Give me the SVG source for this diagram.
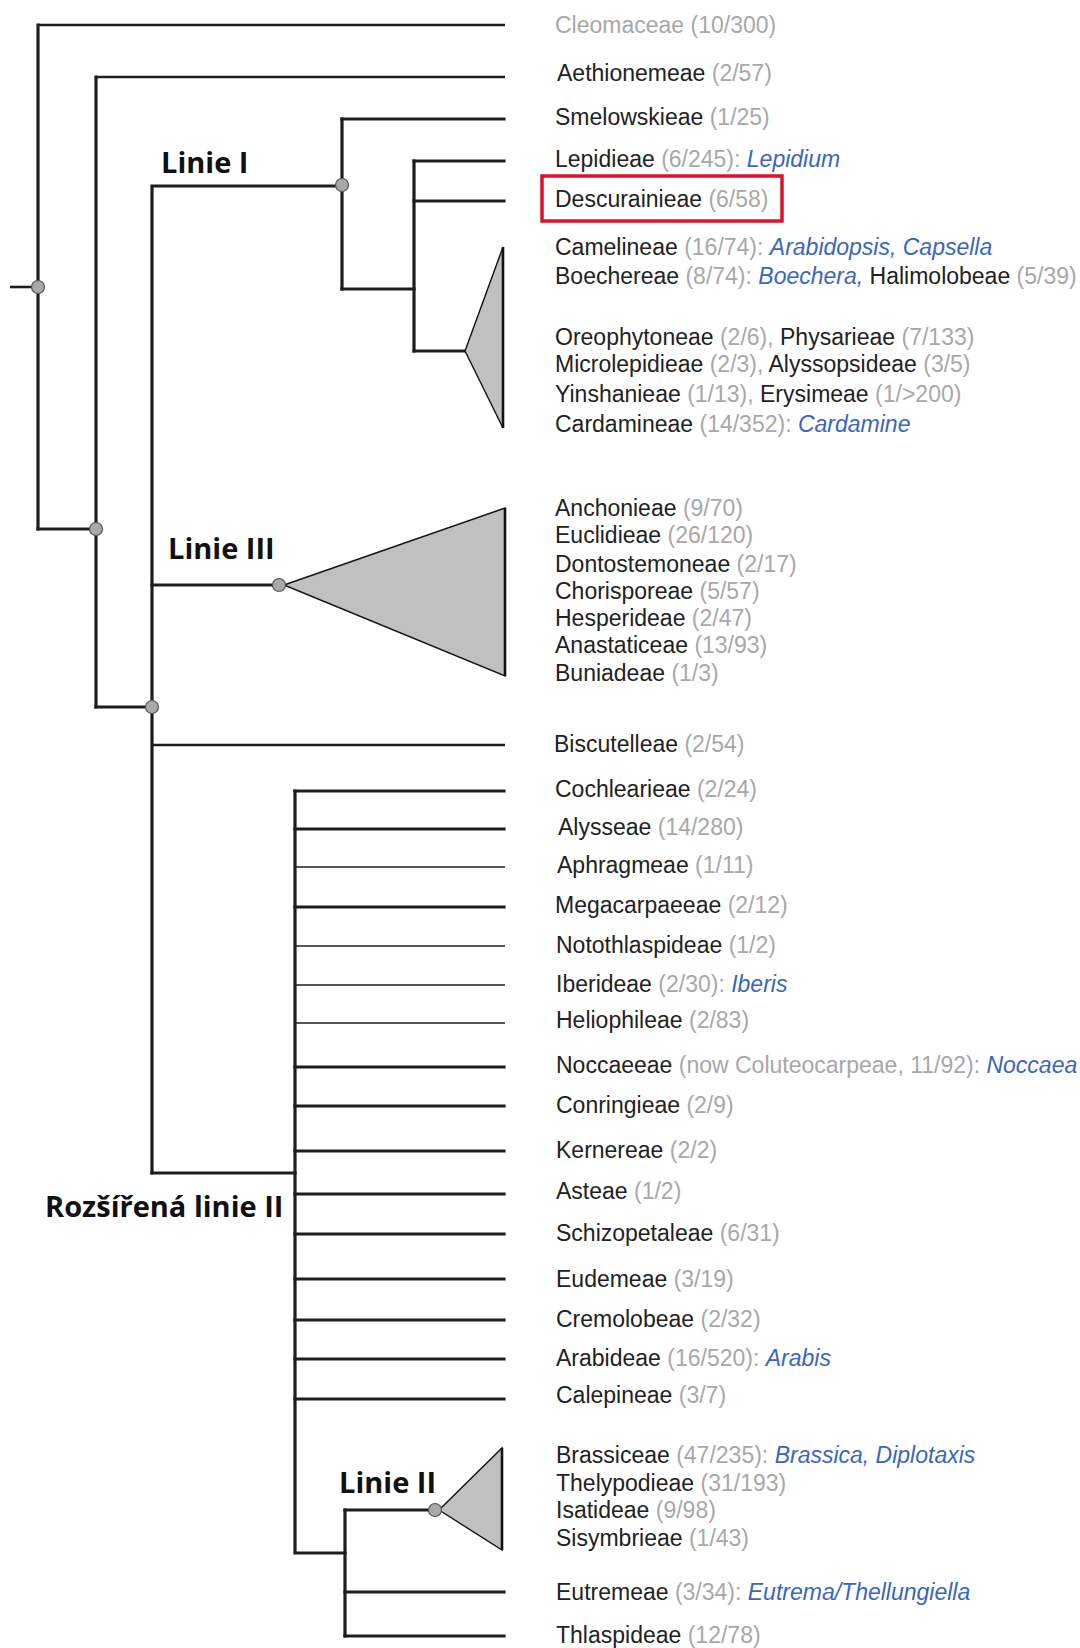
<svg xmlns="http://www.w3.org/2000/svg" width="1080" height="1648" viewBox="0 0 1080 1648">
<style>
text{font-family:"Liberation Sans",Arial,sans-serif;font-size:23px;fill:#222}
.c{fill:#a8a8a8}
.g{fill:#3a66c0;font-style:italic}
.lbl{font-family:"Open Sans","DejaVu Sans",sans-serif;font-weight:700;font-size:29px;fill:#111}
.br{stroke:#1e1e1e;stroke-width:3.2;fill:none;stroke-linecap:square}
.md{stroke:#1e1e1e;stroke-width:2.6;fill:none}
.th{stroke:#1e1e1e;stroke-width:1.7;fill:none}
.node{fill:#a9a9a9;stroke:#555;stroke-width:1.2}
.tri{fill:#c0c0c0;stroke:#111;stroke-width:1.4}
.triR{stroke:#111;stroke-width:2.6}
</style>
<rect width="1080" height="1648" fill="#fff"/>
<g id="connectors">
<path class="md" d="M10 287H38"/>
<path class="br" d="M38 529V25"/>
<path class="md" d="M38 25H505"/>
<path class="br" d="M38 529H96"/>
<path class="br" d="M96 707V77"/>
<path class="md" d="M96 77H505"/>
<path class="br" d="M96 707H152"/>
<path class="br" d="M152 1173V186H342"/>
<path class="br" d="M342 119V289"/>
<path class="br" d="M342 119H504"/>
<path class="br" d="M342 289H414"/>
<path class="br" d="M414 161V351"/>
<path class="br" d="M414 161H504"/>
<path class="br" d="M414 201H504"/>
<path class="br" d="M414 351H465"/>
<path class="br" d="M152 585H279"/>
<path class="md" d="M152 745H505"/>
<path class="br" d="M152 1173H295"/>
<path class="br" d="M295 791V1553H345"/>
<path class="br" d="M295 791H504"/>
<path class="br" d="M295 829H504"/>
<path class="th" d="M295 867H505"/>
<path class="br" d="M295 907H504"/>
<path class="th" d="M295 946H505"/>
<path class="th" d="M295 985H505"/>
<path class="th" d="M295 1023H505"/>
<path class="br" d="M295 1067H504"/>
<path class="br" d="M295 1106H504"/>
<path class="br" d="M295 1151H504"/>
<path class="br" d="M295 1194H504"/>
<path class="br" d="M295 1234H504"/>
<path class="br" d="M295 1279H504"/>
<path class="br" d="M295 1320H504"/>
<path class="br" d="M295 1359H504"/>
<path class="br" d="M295 1399H504"/>
<path class="br" d="M345 1510V1636"/>
<path class="br" d="M345 1510H435"/>
<path class="br" d="M345 1592H504"/>
<path class="br" d="M345 1636H504"/>
</g>
<g id="triangle-linie-I-core">
<polygon class="tri" points="465,351 503,247 503,428"/>
<path class="triR" d="M503 247V428"/>
</g>
<g id="triangle-linie-III">
<polygon class="tri" points="284,585 505,508 505,676"/>
<path class="triR" d="M505 508V676"/>
</g>
<g id="triangle-linie-II">
<polygon class="tri" points="439,1510 502,1448 502,1550"/>
<path class="triR" d="M502 1448V1550"/>
</g>
<g id="node-root"><circle class="node" cx="38" cy="287" r="6.5"/></g>
<g id="node-2"><circle class="node" cx="96" cy="529" r="6.5"/></g>
<g id="node-3"><circle class="node" cx="152" cy="707" r="6.5"/></g>
<g id="node-linie-I"><circle class="node" cx="342" cy="185" r="6.5"/></g>
<g id="node-linie-III"><circle class="node" cx="279" cy="585" r="6.5"/></g>
<g id="node-linie-II"><circle class="node" cx="435" cy="1510" r="6.5"/></g>
<g id="label-linie-I"><text class="lbl" x="161" y="173">Linie I</text></g>
<g id="label-linie-III"><text class="lbl" x="168" y="559">Linie III</text></g>
<g id="label-rozsirena"><text class="lbl" x="45" y="1217">Rozšířená linie II</text></g>
<g id="label-linie-II"><text class="lbl" x="339" y="1493">Linie II</text></g>
<g id="highlight"><rect x="542" y="176" width="240" height="45" fill="none" stroke="#e0102a" stroke-width="3.5"/></g>
<g id="taxa">
<g id="t-cleomaceae"><text x="555" y="33" class="c">Cleomaceae (10/300)</text></g>
<g id="t-aethionemeae"><text x="557" y="81">Aethionemeae <tspan class="c">(2/57)</tspan></text></g>
<g id="t-smelowskieae"><text x="555" y="125">Smelowskieae <tspan class="c">(1/25)</tspan></text></g>
<g id="t-lepidieae"><text x="555" y="167">Lepidieae <tspan class="c">(6/245):</tspan> <tspan class="g">Lepidium</tspan></text></g>
<g id="t-descurainieae"><text x="555" y="207">Descurainieae <tspan class="c">(6/58)</tspan></text></g>
<g id="t-camelineae"><text x="555" y="255">Camelineae <tspan class="c">(16/74):</tspan> <tspan class="g">Arabidopsis, Capsella</tspan></text></g>
<g id="t-boechereae"><text x="555" y="284">Boechereae <tspan class="c">(8/74):</tspan> <tspan class="g">Boechera,</tspan> Halimolobeae <tspan class="c">(5/39)</tspan></text></g>
<g id="t-oreophytoneae"><text x="555" y="345">Oreophytoneae <tspan class="c">(2/6),</tspan> Physarieae <tspan class="c">(7/133)</tspan></text></g>
<g id="t-microlepidieae"><text x="555" y="372">Microlepidieae <tspan class="c">(2/3),</tspan> Alyssopsideae <tspan class="c">(3/5)</tspan></text></g>
<g id="t-yinshanieae"><text x="555" y="402">Yinshanieae <tspan class="c">(1/13),</tspan> Erysimeae <tspan class="c">(1/&gt;200)</tspan></text></g>
<g id="t-cardamineae"><text x="555" y="432">Cardamineae <tspan class="c">(14/352):</tspan> <tspan class="g">Cardamine</tspan></text></g>
<g id="t-anchonieae"><text x="555" y="516">Anchonieae <tspan class="c">(9/70)</tspan></text></g>
<g id="t-euclidieae"><text x="555" y="543">Euclidieae <tspan class="c">(26/120)</tspan></text></g>
<g id="t-dontostemoneae"><text x="555" y="572">Dontostemoneae <tspan class="c">(2/17)</tspan></text></g>
<g id="t-chorisporeae"><text x="555" y="599">Chorisporeae <tspan class="c">(5/57)</tspan></text></g>
<g id="t-hesperideae"><text x="555" y="626">Hesperideae <tspan class="c">(2/47)</tspan></text></g>
<g id="t-anastaticeae"><text x="555" y="653">Anastaticeae <tspan class="c">(13/93)</tspan></text></g>
<g id="t-buniadeae"><text x="555" y="681">Buniadeae <tspan class="c">(1/3)</tspan></text></g>
<g id="t-biscutelleae"><text x="554" y="752">Biscutelleae <tspan class="c">(2/54)</tspan></text></g>
<g id="t-cochlearieae"><text x="555" y="797">Cochlearieae <tspan class="c">(2/24)</tspan></text></g>
<g id="t-alysseae"><text x="558" y="835">Alysseae <tspan class="c">(14/280)</tspan></text></g>
<g id="t-aphragmeae"><text x="557" y="873">Aphragmeae <tspan class="c">(1/11)</tspan></text></g>
<g id="t-megacarpaeeae"><text x="555" y="913">Megacarpaeeae <tspan class="c">(2/12)</tspan></text></g>
<g id="t-notothlaspideae"><text x="556" y="953">Notothlaspideae <tspan class="c">(1/2)</tspan></text></g>
<g id="t-iberideae"><text x="556" y="992">Iberideae <tspan class="c">(2/30):</tspan> <tspan class="g">Iberis</tspan></text></g>
<g id="t-heliophileae"><text x="556" y="1028">Heliophileae <tspan class="c">(2/83)</tspan></text></g>
<g id="t-noccaeeae"><text x="556" y="1073">Noccaeeae <tspan class="c">(now Coluteocarpeae, 11/92):</tspan> <tspan class="g">Noccaea</tspan></text></g>
<g id="t-conringieae"><text x="556" y="1113">Conringieae <tspan class="c">(2/9)</tspan></text></g>
<g id="t-kernereae"><text x="556" y="1158">Kernereae <tspan class="c">(2/2)</tspan></text></g>
<g id="t-asteae"><text x="556" y="1199">Asteae <tspan class="c">(1/2)</tspan></text></g>
<g id="t-schizopetaleae"><text x="556" y="1241">Schizopetaleae <tspan class="c">(6/31)</tspan></text></g>
<g id="t-eudemeae"><text x="556" y="1287">Eudemeae <tspan class="c">(3/19)</tspan></text></g>
<g id="t-cremolobeae"><text x="556" y="1327">Cremolobeae <tspan class="c">(2/32)</tspan></text></g>
<g id="t-arabideae"><text x="556" y="1366">Arabideae <tspan class="c">(16/520):</tspan> <tspan class="g">Arabis</tspan></text></g>
<g id="t-calepineae"><text x="556" y="1403">Calepineae <tspan class="c">(3/7)</tspan></text></g>
<g id="t-brassiceae"><text x="556" y="1463">Brassiceae <tspan class="c">(47/235):</tspan> <tspan class="g">Brassica, Diplotaxis</tspan></text></g>
<g id="t-thelypodieae"><text x="556" y="1491">Thelypodieae <tspan class="c">(31/193)</tspan></text></g>
<g id="t-isatideae"><text x="556" y="1518">Isatideae <tspan class="c">(9/98)</tspan></text></g>
<g id="t-sisymbrieae"><text x="556" y="1546">Sisymbrieae <tspan class="c">(1/43)</tspan></text></g>
<g id="t-eutremeae"><text x="556" y="1600">Eutremeae <tspan class="c">(3/34):</tspan> <tspan class="g">Eutrema/Thellungiella</tspan></text></g>
<g id="t-thlaspideae"><text x="556" y="1643">Thlaspideae <tspan class="c">(12/78)</tspan></text></g>
</g>
</svg>
